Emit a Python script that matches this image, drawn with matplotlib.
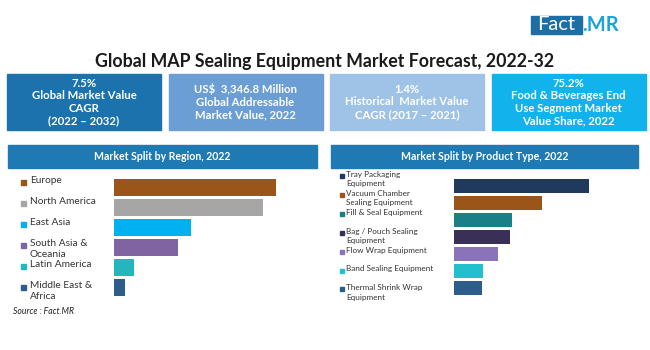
import numpy as np
import matplotlib
matplotlib.use('Agg')
import matplotlib.pyplot as plt
from matplotlib.patches import Rectangle

plt.rcParams['font.family'] = ['Lato', 'DejaVu Sans']

W, H = 650, 350

# data (relative market split)
regions = ['Europe', 'North America', 'East Asia', 'South Asia &\nOceania',
           'Latin America', 'Middle East &\nAfrica']
region_share = [32.4, 29.8, 15.4, 12.8, 4.0, 2.2]
region_colors = ['#9c5519', '#a6a6a6', '#00b0f0', '#8064a2', '#23b6bf', '#2e5d8c']

products = ['Tray Packaging\nEquipment', 'Vacuum Chamber\nSealing Equipment',
            'Fill & Seal Equipment', 'Bag / Pouch Sealing\nEquipment',
            'Flow Wrap Equipment', 'Band Sealing Equipment',
            'Thermal Shrink Wrap\nEquipment']
product_share = [27.0, 17.6, 11.6, 11.2, 8.8, 5.8, 5.6]
product_colors = ['#1f3a5c', '#9c5519', '#1b7f87', '#3a2f56', '#8a73b9', '#21c0cc', '#2e5d8c']

kpi_texts = ['7.5%\nGlobal Market Value\nCAGR\n(2022 \u2013 2032)',
             'US$  3,346.8 Million\nGlobal Addressable\nMarket Value, 2022',
             '1.4%\nHistorical  Market Value\nCAGR (2017 \u2013 2021)',
             '75.2%\nFood & Beverages End\nUse Segment Market\nValue Share, 2022']
kpi_colors = ['#1b72ac', '#6a9ed5', '#9fc3e7', '#12b2ec']


def fx(x):
    return x / W


def fy(y):
    return 1 - y / H


fig = plt.figure(figsize=(6.5, 3.5), dpi=100)
fig.patch.set_facecolor('white')

# logo
fig.patches.append(Rectangle((fx(531), fy(34)), fx(51), 18 / H, transform=fig.transFigure,
                             color='#1d6ea6', zorder=1))
fig.text(fx(556), fy(25), 'Fact', color='white', fontsize=14.5, ha='center', va='center')
fig.text(fx(582), fy(25), '.MR', color='#1aa3dc', fontsize=14.5, ha='left', va='center',
         fontweight='bold')

# title
fig.text(fx(325), fy(62), 'Global MAP Sealing Equipment Market Forecast, 2022-32',
         fontsize=12.8, fontweight='bold', ha='center', va='center', color='#1a1a1a')

# KPI boxes
for i, (txt, col) in enumerate(zip(kpi_texts, kpi_colors)):
    x0 = 7 + i * 161.5
    fig.patches.append(Rectangle((fx(x0), fy(130)), fx(154), 56 / H,
                                 transform=fig.transFigure, color=col))
    fig.text(fx(x0 + 77), fy(102), txt, color='white', fontsize=8.2, fontweight='bold',
             ha='center', va='center', linespacing=1.18)

# panel headers
for x0, x1, title in [(8, 317, 'Market Split by Region, 2022'),
                      (331, 638, 'Market Split by Product Type, 2022')]:
    fig.patches.append(Rectangle((fx(x0), fy(168)), fx(x1 - x0), 23 / H,
                                 transform=fig.transFigure, color='#1f7ab3'))
    fig.text(fx((x0 + x1) / 2), fy(156.5), title, color='white', fontsize=7.6,
             fontweight='bold', ha='center', va='center')

# region bars
ax1 = fig.add_axes([fx(114), fy(297.5), fx(200), 120 / H])
ax1.barh(np.arange(len(regions)), region_share, height=0.85, color=region_colors)
ax1.set_xlim(0, 40)
ax1.set_ylim(len(regions) - 0.5, -0.5)
ax1.axis('off')

for i, (lab, col) in enumerate(zip(regions, region_colors)):
    yc = 182 + i * 21
    fig.patches.append(Rectangle((fx(21), fy(yc + 2.5)), fx(5), 5 / H,
                                 transform=fig.transFigure, color=col))
    fig.text(fx(30), fy(yc - 6), lab, fontsize=7.3, ha='left', va='top',
             color='#333333', linespacing=1.25)

# product bars
ax2 = fig.add_axes([fx(454), fy(296.5), fx(180), 119 / H])
ax2.barh(np.arange(len(products)), product_share, height=0.88, color=product_colors)
ax2.set_xlim(0, 36)
ax2.set_ylim(len(products) - 0.5, -0.5)
ax2.axis('off')

for i, (lab, col) in enumerate(zip(products, product_colors)):
    yc = 176 + i * 18.9
    fig.patches.append(Rectangle((fx(340), fy(yc + 2)), fx(4), 4 / H,
                                 transform=fig.transFigure, color=col))
    fig.text(fx(346), fy(yc - 5), lab, fontsize=5.9, ha='left', va='top',
             color='#333333', linespacing=1.4)

fig.text(fx(13), fy(312), 'Source : Fact.MR', fontsize=6.2, style='italic',
         ha='left', va='center', color='#222222')

fig.savefig('out.png', dpi=100)
